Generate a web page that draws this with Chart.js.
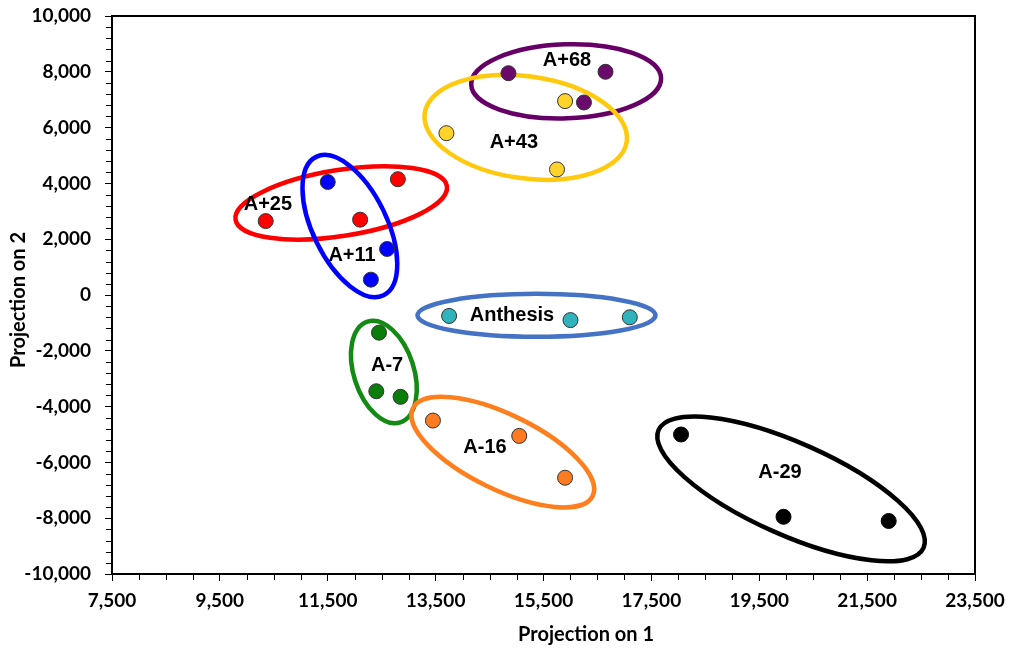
<!DOCTYPE html>
<html>
<head>
<meta charset="utf-8">
<script src="https://cdn.jsdelivr.net/npm/chart.js@4"></script>
<style>
    body { margin: 0; background: #fff; }
    #wrap { width: 1011px; height: 650px; position: relative; }
</style>
</head>
<body>
<div id="wrap"><canvas id="scoreChart"></canvas></div>
<script>
// Score plot: projection on component 1 vs component 2
const groupNames = ['A+68', 'A+43', 'A+25', 'A+11', 'Anthesis', 'A-7', 'A-16', 'A-29'];

const a68X = [14850, 16650, 16250];
const a68Y = [7950, 8000, 6900];
const a43X = [15900, 13700, 15750];
const a43Y = [6950, 5800, 4500];
const a25X = [10350, 12800, 12100];
const a25Y = [2650, 4150, 2700];
const a11X = [11500, 12600, 12300];
const a11Y = [4050, 1650, 550];
const anthesisX = [13750, 16000, 17100];
const anthesisY = [-750, -900, -800];
const am7X = [12450, 12400, 12850];
const am7Y = [-1350, -3450, -3650];
const am16X = [13450, 15050, 15900];
const am16Y = [-4500, -5050, -6550];
const am29X = [18050, 19950, 21900];
const am29Y = [-5000, -7950, -8100];

const xTicks = [7500, 9500, 11500, 13500, 15500, 17500, 19500, 21500, 23500];
const yTicks = [-10000, -8000, -6000, -4000, -2000, 0, 2000, 4000, 6000, 8000, 10000];

const seriesX = [a68X, a43X, a25X, a11X, anthesisX, am7X, am16X, am29X];
const seriesY = [a68Y, a43Y, a25Y, a11Y, anthesisY, am7Y, am16Y, am29Y];

const pointColors = ['#6b0a6b', '#ffd42a', '#ff0000', '#0000ff', '#2fb3bc', '#0a7d0a', '#ff7b22', '#000000'];
const ringColors = ['#660066', '#ffc90e', '#ff0000', '#0000ff', '#4472c4', '#138a13', '#ff7f1e', '#000000'];

// group outline: centre in data units, half axes in px, tilt in degrees
const rings = [
    { cx: 15920, cy: 7660, rx: 95, ry: 37, tilt: -2 },
    { cx: 15170, cy: 6010, rx: 102, ry: 51, tilt: 8 },
    { cx: 11750, cy: 3300, rx: 107, ry: 33, tilt: -9 },
    { cx: 11910, cy: 2470, rx: 77, ry: 37, tilt: 64 },
    { cx: 15370, cy: -730, rx: 119, ry: 21.5, tilt: 0 },
    { cx: 12540, cy: -2760, rx: 53, ry: 30, tilt: 72 },
    { cx: 14745, cy: -5630, rx: 100, ry: 37.5, tilt: 26 },
    { cx: 20090, cy: -6950, rx: 145, ry: 46, tilt: 24 }
];
// where each group name sits, data units
const labelX = [15935, 14950, 10390, 11950, 14915, 12600, 14415, 19885];
const labelY = [8390, 5450, 3230, 1400, -750, -2510, -5450, -6345];

const tickFont = { family: 'Lato', size: 19, weight: 'bold' };

const groupPlugin = {
    id: 'groupRings',
    beforeDatasetsDraw(chart) {
        const { ctx, scales: { x, y } } = chart;
        rings.forEach((r, i) => {
            ctx.save();
            ctx.beginPath();
            ctx.ellipse(x.getPixelForValue(r.cx), y.getPixelForValue(r.cy), r.rx, r.ry,
                r.tilt * Math.PI / 180, 0, Math.PI * 2);
            ctx.lineWidth = 4.5;
            ctx.strokeStyle = ringColors[i];
            ctx.stroke();
            ctx.restore();
        });
    },
    afterDatasetsDraw(chart) {
        const { ctx, scales: { x, y } } = chart;
        ctx.save();
        ctx.font = 'bold 20px "Liberation Sans", Arial, sans-serif';
        ctx.fillStyle = '#000';
        ctx.textAlign = 'center';
        ctx.textBaseline = 'middle';
        groupNames.forEach((name, i) => {
            ctx.fillText(name, x.getPixelForValue(labelX[i]), y.getPixelForValue(labelY[i]));
        });
        ctx.restore();
    },
    afterDraw(chart) {
        const { ctx, chartArea: a, scales: { x, y } } = chart;
        ctx.save();
        ctx.strokeStyle = '#000';
        ctx.lineWidth = 1;
        // minor ticks
        ctx.beginPath();
        for (let v = 8000; v < 23500; v += 500) {
            if (xTicks.includes(v)) continue;
            const px = Math.round(x.getPixelForValue(v)) + 0.5;
            ctx.moveTo(px, a.bottom);
            ctx.lineTo(px, a.bottom + 6);
        }
        for (let v = -9600; v < 10000; v += 400) {
            if (yTicks.includes(v)) continue;
            const py = Math.round(y.getPixelForValue(v)) + 0.5;
            ctx.moveTo(a.left, py);
            ctx.lineTo(a.left - 6, py);
        }
        ctx.stroke();
        // frame
        ctx.lineWidth = 2;
        ctx.strokeRect(a.left, a.top, a.right - a.left, a.bottom - a.top);
        // axis titles
        ctx.fillStyle = '#000';
        ctx.font = 'bold 20px Lato, sans-serif';
        ctx.textAlign = 'center';
        ctx.textBaseline = 'middle';
        ctx.fillText('Projection on 1', 586, 635);
        ctx.translate(19, 300);
        ctx.rotate(-Math.PI / 2);
        ctx.fillText('Projection on 2', 0, 0);
        ctx.restore();
    }
};

const datasets = groupNames.map((name, i) => ({
    label: name,
    data: seriesX[i].map((v, j) => ({ x: v, y: seriesY[i][j] })),
    backgroundColor: pointColors[i],
    borderColor: i === 7 ? '#000' : '#333',
    borderWidth: 1,
    pointRadius: 7.5
}));

new Chart(document.getElementById('scoreChart'), {
    type: 'scatter',
    data: { datasets: datasets },
    plugins: [groupPlugin],
    options: {
        responsive: true,
        maintainAspectRatio: false,
        animation: false,
        layout: { padding: { left: 0, top: 16, right: 36, bottom: 0 } },
        plugins: {
            legend: { display: false },
            tooltip: { enabled: false }
        },
        scales: {
            x: {
                type: 'linear',
                min: 7500,
                max: 23500,
                afterFit: scale => {
                    scale.height = 76;
                    scale.paddingLeft = 0;
                    scale.paddingRight = 0;
                },
                afterBuildTicks: scale => { scale.ticks = xTicks.map(v => ({ value: v })); },
                grid: { drawOnChartArea: false, color: '#000', tickLength: 7, tickWidth: 1 },
                border: { display: false },
                ticks: {
                    color: '#000',
                    font: tickFont,
                    padding: 8,
                    maxRotation: 0,
                    callback: v => v.toLocaleString('en-US')
                }
            },
            y: {
                type: 'linear',
                min: -10000,
                max: 10000,
                afterFit: scale => {
                    scale.width = 112;
                    scale.paddingTop = 0;
                    scale.paddingBottom = 0;
                },
                afterBuildTicks: scale => { scale.ticks = yTicks.map(v => ({ value: v })); },
                grid: { drawOnChartArea: false, color: '#000', tickLength: 7, tickWidth: 1 },
                border: { display: false },
                ticks: {
                    color: '#000',
                    font: tickFont,
                    padding: 14,
                    callback: v => v.toLocaleString('en-US')
                }
            }
        }
    }
});
</script>
</body>
</html>
